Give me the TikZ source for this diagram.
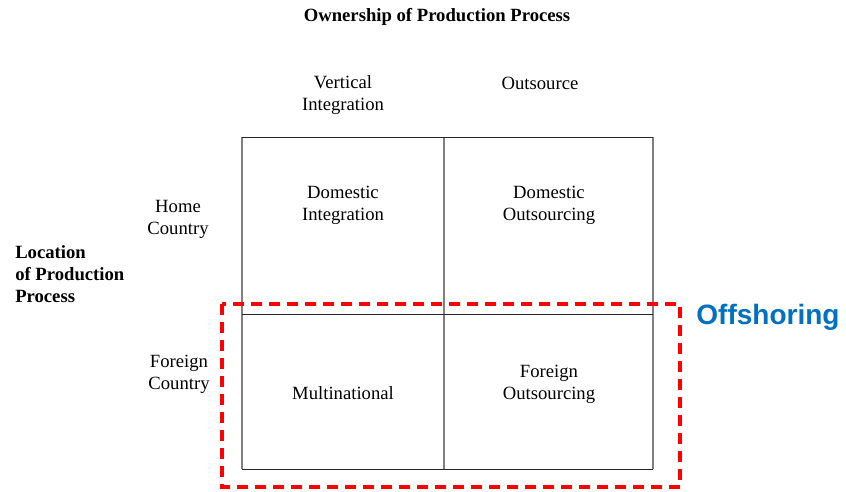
\documentclass[tikz,border=0pt]{standalone}
\usepackage{fontspec}
\setmainfont{Liberation Serif}
\newfontfamily\labelsans{Liberation Sans}
\usepackage{tikz}
\usetikzlibrary{positioning}
\definecolor{offred}{RGB}{255,0,0}
\definecolor{offblue}{RGB}{0,112,192}

\begin{document}
\begin{tikzpicture}[
    x=0.75pt, y=-0.75pt,
    lbl/.style={align=center, inner sep=0pt, font=\fontsize{14}{16.5}\selectfont},
    head/.style={align=left, inner sep=0pt, font=\fontsize{14}{16.5}\selectfont\bfseries},
    vline/.style={draw=black!50, line width=1.2pt},
    hline/.style={draw=black!85, line width=0.7pt},
    offbox/.style={draw=offred, line width=3pt, dash pattern=on 8pt off 5.5pt}
]
\useasboundingbox (0,0) rectangle (846,492);

% Axis titles
\node[head] (owner) at (437,17) {Ownership of Production Process};
\node[head, anchor=west] (loc) at (15,274) {Location\\of Production\\Process};

% Column and row headings
\node[lbl] (vert) at (343,95) {Vertical\\Integration};
\node[lbl] (outs) at (540,83) {Outsource};
\node[lbl] (home) at (178,219) {Home\\Country};
\node[lbl] (forg) at (179,374) {Foreign\\Country};

% The 2x2 grid
\draw[vline] (242,137) -- (242,469);
\draw[vline] (444,137) -- (444,469);
\draw[vline] (653,137) -- (653,469);
\draw[hline] (242,137) -- (653,137);
\draw[hline] (242,314) -- (653,314);
\draw[hline] (242,469) -- (653,469);

% Cell labels
\node[lbl] (dint) at (343,205) {Domestic\\Integration};
\node[lbl] (dout) at (549,205) {Domestic\\Outsourcing};
\node[lbl] (mult) at (343,393) {Multinational};
\node[lbl] (fout) at (549,384) {Foreign\\Outsourcing};

% Offshoring region
\draw[offbox] (222,304) rectangle (680,487);
\node[inner sep=0pt, text=offblue, font=\labelsans\fontsize{21}{24}\selectfont\bfseries] (offs) at (768,317) {Offshoring};

\end{tikzpicture}
\end{document}
